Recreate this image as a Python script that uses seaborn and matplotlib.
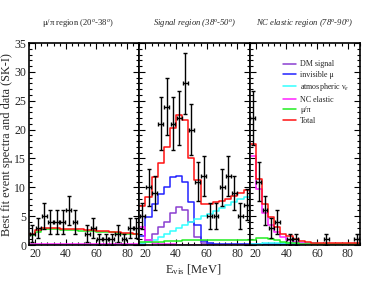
import numpy as np
import pandas as pd
import matplotlib
matplotlib.use("Agg")
import matplotlib.pyplot as plt
from matplotlib.ticker import MultipleLocator
import seaborn as sns

# bin edges (E_vis, MeV), 4 MeV bins from 16 to 88
edges = np.arange(16, 92, 4)
centers = 0.5 * (edges[:-1] + edges[1:])

region_titles = ["\u03bc/\u03c0 region (20$^o$-38$^o$)",
                 "Signal region (38$^o$-50$^o$)",
                 "NC elastic region (78$^o$-90$^o$)"]
title_styles = ["normal", "italic", "italic"]
title_xpos = [0.44, 0.5, 0.5]

# observed events
data_mupi = [2, 3, 5, 4, 4, 4, 6, 4, 0, 2, 3, 1, 1, 1, 2, 1, 3, 3]
data_signal = [5, 10, 9, 21, 24, 21, 22, 28, 20, 11, 12, 5, 5, 10, 12, 9, 5, 7]
data_ncel = [22, 11, 6, 3, 4, 0, 1, 1, 0, 0, 0, 0, 1, 0, 0, 0, 0, 1]

# best fit components, mu/pi region
dm_mupi = [0.02] * 18
invmu_mupi = [0.03] * 18
atmnue_mupi = [0.04] * 18
ncel_mupi = [0.15] * 18
mupi_mupi = [1.8, 2.3, 2.7, 2.7, 2.7, 2.65, 2.6, 2.55, 2.5, 2.45, 2.4, 2.3, 2.25, 2.2, 2.1, 2.0, 1.95, 1.9]
total_mupi = [1.9, 2.6, 2.9, 2.9, 2.9, 2.85, 2.85, 2.8, 2.7, 2.6, 2.55, 2.45, 2.4, 2.3, 2.2, 2.1, 2.05, 2.0]

# best fit components, signal region
dm_signal = [0.2, 0.8, 2.0, 3.2, 4.0, 5.5, 6.6, 6.0, 4.0, 1.4, 0.3, 0.1, 0.05, 0.05, 0.05, 0.05, 0.05, 0.05]
invmu_signal = [1.5, 4.9, 7.2, 8.8, 10.1, 11.8, 12.0, 11.0, 7.5, 3.5, 0.7, 0.3, 0.1, 0.1, 0.1, 0.1, 0.1, 0.1]
atmnue_signal = [0.3, 0.5, 0.9, 1.4, 1.9, 2.5, 3.0, 3.5, 4.0, 4.5, 5.0, 5.4, 5.9, 6.4, 6.9, 7.4, 7.9, 8.4]
ncel_signal = [3.2, 0.9, 0.3, 0.2, 0.1, 0.1, 0.05, 0.05, 0.05, 0.05, 0.05, 0.05, 0.05, 0.05, 0.05, 0.05, 0.05, 0.05]
mupi_signal = [0.5, 0.5, 0.55, 0.6, 0.65, 0.7, 0.75, 0.8, 0.85, 0.9, 0.9, 0.9, 0.9, 0.9, 0.9, 0.85, 0.85, 0.8]
total_signal = [6.8, 8.4, 11.8, 14.2, 17.0, 20.3, 22.5, 21.7, 15.0, 11.3, 7.2, 7.2, 7.4, 7.7, 8.0, 8.5, 9.0, 9.5]

# best fit components, NC elastic region
dm_ncel = [0.02] * 18
invmu_ncel = [0.1] * 18
atmnue_ncel = [0.2, 0.25, 0.3, 0.3, 0.3, 0.3, 0.3, 0.3, 0.3, 0.3, 0.3, 0.25, 0.25, 0.25, 0.25, 0.25, 0.25, 0.25]
ncel_ncel = [15.5, 9.8, 5.5, 3.5, 2.3, 1.4, 0.9, 0.6, 0.3, 0.2, 0.1, 0.1, 0.1, 0.1, 0.1, 0.1, 0.1, 0.1]
mupi_ncel = [0.9, 1.2, 1.3, 1.1, 0.9, 0.6, 0.4, 0.3, 0.2, 0.15, 0.1, 0.1, 0.1, 0.1, 0.1, 0.1, 0.1, 0.1]
total_ncel = [17.5, 11.5, 7.2, 4.8, 3.2, 2.0, 1.6, 1.1, 0.7, 0.5, 0.4, 0.4, 0.4, 0.4, 0.4, 0.4, 0.4, 0.4]

component_labels = ["DM signal", "invisible \u03bc", "atmospheric \u03bd$_e$",
                    "NC elastic", "\u03bc/\u03c0", "Total"]
component_colors = ["#8a3fd1", "#2222ff", "#33ffff", "#ff22ff", "#22ee22", "#ff1111"]

regions = [
    (data_mupi, [dm_mupi, invmu_mupi, atmnue_mupi, ncel_mupi, mupi_mupi, total_mupi]),
    (data_signal, [dm_signal, invmu_signal, atmnue_signal, ncel_signal, mupi_signal, total_signal]),
    (data_ncel, [dm_ncel, invmu_ncel, atmnue_ncel, ncel_ncel, mupi_ncel, total_ncel]),
]

sns.set_theme(style="ticks")
plt.rcParams["font.family"] = ["Liberation Serif", "DejaVu Serif"]
plt.rcParams["mathtext.fontset"] = "custom"
plt.rcParams["mathtext.rm"] = "Liberation Serif"
plt.rcParams["mathtext.it"] = "Liberation Serif:italic"

fig, axes = plt.subplots(1, 3, sharey=True, figsize=(3.74, 2.89), dpi=100)
fig.subplots_adjust(left=0.0775, right=0.9626, bottom=0.152, top=0.851, wspace=0)

for i, (ax, (data, comps), title) in enumerate(zip(axes, regions, region_titles)):
    for vals, color, label in zip(comps, component_colors, component_labels):
        df = pd.DataFrame({"E": centers, "w": vals})
        sns.histplot(data=df, x="E", weights="w", binwidth=4, binrange=(16, 88),
                     element="step", fill=False, color=color, linewidth=1.1,
                     label=label, ax=ax)
    d = np.array(data, dtype=float)
    keep = d > 0
    ax.errorbar(centers[keep], d[keep], yerr=np.sqrt(d[keep]), xerr=1.6,
                fmt="none", ecolor="black", elinewidth=1.0, capsize=1.6,
                capthick=1.0, zorder=5)
    ax.set_xlim(edges[0], edges[-1])
    ax.set_ylim(0, 35)
    ax.set_xlabel("")
    ax.set_ylabel("")
    ax.text(title_xpos[i], 1.07, title, transform=ax.transAxes, ha="center",
            va="bottom", fontsize=6.2, style=title_styles[i])
    ax.xaxis.set_major_locator(MultipleLocator(20))
    ax.xaxis.set_minor_locator(MultipleLocator(4))
    ax.yaxis.set_major_locator(MultipleLocator(5))
    ax.yaxis.set_minor_locator(MultipleLocator(1))
    ax.tick_params(which="both", direction="in", top=True, right=True,
                   labelsize=8.5, pad=2, width=0.8, color="black")
    ax.tick_params(which="major", length=4)
    ax.tick_params(which="minor", length=2)
    for s in ax.spines.values():
        s.set_linewidth(1.2)
        s.set_color("black")

axes[0].set_ylabel("Best fit event spectra and data (SK-I)", fontsize=8.8, labelpad=1)
fig.text(0.518, 0.055, "E$_{\\rm vis}$ [MeV]", ha="center", fontsize=9)

handles, labels = axes[2].get_legend_handles_labels()
axes[2].legend(handles, labels, loc="upper left", bbox_to_anchor=(0.27, 0.93),
               frameon=False, fontsize=5.8, handlelength=1.6, handletextpad=0.6,
               labelspacing=0.3, borderaxespad=0)

fig.savefig("out.png", dpi=100)
